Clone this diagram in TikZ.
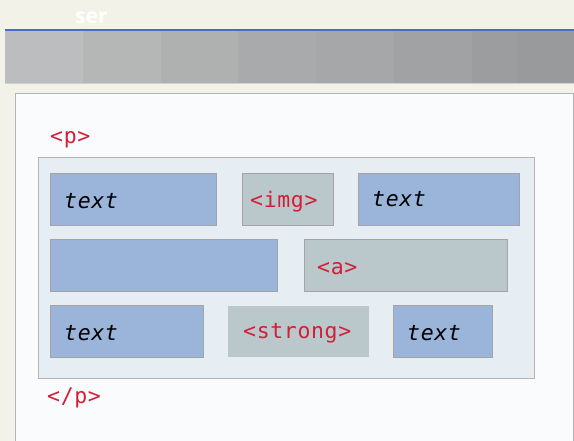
\documentclass[tikz,border=0pt]{standalone}
\usepackage{fontspec}
\setmainfont{DejaVu Sans}
\setmonofont[LetterSpace=3]{DejaVu Sans Mono}
\newfontfamily\headfont{Open Sans}
\usetikzlibrary{positioning}
\definecolor{pagebg}{HTML}{F3F2E8}
\definecolor{rulecol}{HTML}{4A6CC8}
\definecolor{panelbg}{HTML}{FAFBFD}
\definecolor{panelline}{HTML}{B4B4B4}
\definecolor{boxbg}{HTML}{E6EEF3}
\definecolor{inlinebg}{HTML}{9AB4DA}
\definecolor{tagbg}{HTML}{BAC8CC}
\definecolor{boxline}{HTML}{A4A4A4}
\definecolor{tagred}{HTML}{D21F35}
\tikzset{
  inlinebox/.style={draw=boxline, line width=1pt, fill=inlinebg, anchor=north west, inner sep=0pt},
  tagbox/.style={draw=boxline, line width=1pt, fill=tagbg, anchor=north west, inner sep=0pt},
  plaintag/.style={fill=tagbg, anchor=north west, inner sep=0pt},
  tagtxt/.style={text=tagred, font=\ttfamily\fontsize{21.5}{21.5}\selectfont, anchor=west, inner sep=0pt},
  wordtxt/.style={text=black, font=\ttfamily\itshape\fontsize{21.5}{21.5}\selectfont, anchor=west, inner sep=0pt},
}
\begin{document}
\begin{tikzpicture}[x=1pt,y=-1pt]
\useasboundingbox (0,0) rectangle (574,441);
\fill[pagebg] (0,0) rectangle (574,441);
% header title
\node[text=white, font=\headfont\bfseries\fontsize{21}{21}\selectfont, anchor=west, inner sep=0pt] (title) at (75,18) {ser};
% toolbar strip
\fill[rulecol] (5,29.5) rectangle (574,31);
\foreach \xa/\xb/\c in {5/83/BCBDBF,83/161/B5B7B6,161/238/AFB1B0,238/316/A9AAAB,316/394/A6A7A9,394/472/A1A2A4,472/518/9C9D9F,518/574/999A9C}{
  \definecolor{seg}{HTML}{\c}
  \fill[seg] (\xa,31) rectangle (\xb,83);
}
\draw[color=black!18, line width=0.8pt] (5,83) -- (574,83);
% content panel
\node[draw=panelline, line width=1pt, fill=panelbg, anchor=north west, inner sep=0pt,
      minimum width=558pt, minimum height=360pt] (panel) at (15,93) {};
% paragraph box
\node[tagtxt] (popen) at (50,140) {<p>};
\node[draw=panelline, line width=1pt, fill=boxbg, anchor=north west, inner sep=0pt,
      minimum width=496pt, minimum height=221pt] (para) at (38,157) {};
% row 1
\node[inlinebox, minimum width=166pt, minimum height=52pt] (t1) at (50,173) {};
\node[wordtxt] (t1txt) at (64,201.5) {text};
\node[tagbox, minimum width=91pt, minimum height=52pt] (img) at (242,173) {};
\node[tagtxt] (imgtxt) at (250,201.5) {<img>};
\node[inlinebox, minimum width=161pt, minimum height=52pt] (t2) at (358,173) {};
\node[wordtxt] (t2txt) at (372,199.5) {text};
% row 2
\node[inlinebox, minimum width=227pt, minimum height=52pt] (t3) at (50,239) {};
\node[tagbox, minimum width=203pt, minimum height=52pt] (anchor) at (304,239) {};
\node[tagtxt] (atxt) at (317,268.5) {<a>};
% row 3
\node[inlinebox, minimum width=153pt, minimum height=52pt] (t4) at (50,305) {};
\node[wordtxt] (t4txt) at (64,333.5) {text};
\node[plaintag, minimum width=141pt, minimum height=51pt] (strong) at (228,306) {};
\node[tagtxt] (strongtxt) at (243,333.5) {<strong>};
\node[inlinebox, minimum width=99pt, minimum height=52pt] (t5) at (393,305) {};
\node[wordtxt] (t5txt) at (407,333.5) {text};
% closing tag
\node[tagtxt] (pclose) at (47,398) {</p>};
\end{tikzpicture}
\end{document}
